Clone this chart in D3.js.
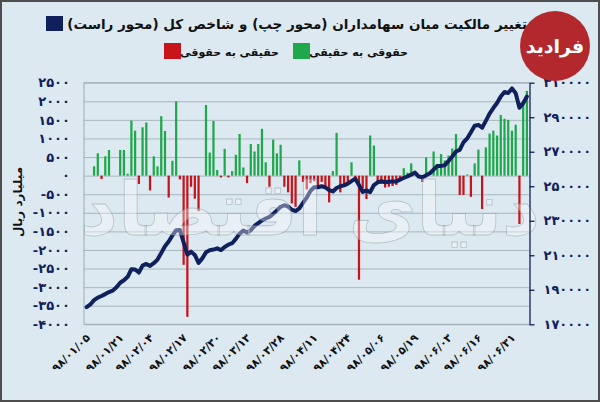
<!DOCTYPE html>
<html>
<head>
<meta charset="utf-8">
<script src="https://cdn.jsdelivr.net/npm/d3@7"></script>
<style>
  body { margin: 0; background: #dce9f1; }
  svg { display: block; }
</style>
</head>
<body>
<div id="plot"></div>
<script>
// OWNERSHIP FLOW + TEPIX CHART
var w = 600;
var h = 402;

// Data: daily net flow real<->legal (billion rials), left axis
var flowValues = [
	0, 0, 250, 600, -90, 520, 690, 0, 0, 690,
	690, 50, 1480, 1210, -225, 1300, 1430, -400, 520, 250,
	1600, 1200, -590, 400, 2000, -100, -2400, -3800, -300, -620,
	-950, 0, 1900, 620, 1470, 150, -50, 720, -50, 120,
	560, 1120, 220, -200, 850, 650, 850, 1260, 360, -300,
	970, 600, 830, -300, -450, -750, -840, 410, -170, -370,
	-200, -150, -300, -170, -320, -720, 120, 1150, -450, -300,
	-220, 360, -150, -2800, -350, -630, 1080, 810, -220, -220,
	-320, -300, -280, -250, -100, 200, 80, 330, 0, 0,
	-170, 490, 0, 650, 300, 580, 410, 540, 730, 1120,
	-520, -520, 30, -570, 330, 700, -900, 760, 1130, 1210,
	1080, 1630, 1530, 1500, 1210, 1370, -1300, 1900, 2280
];

// Data: total index, right axis
var indexValues = [
	180000, 181500, 184000, 185500, 186400, 187500, 188700, 189500, 191500, 194100,
	195500, 197500, 201900, 201800, 200000, 204000, 205000, 203800, 205400, 207500,
	211300, 215200, 218000, 221500, 224500, 224600, 217500, 210300, 212100, 210200,
	205600, 208200, 211700, 212900, 213300, 214000, 213000, 214800, 216200, 217000,
	219500, 222500, 224400, 223200, 224500, 227000, 228600, 230200, 231300, 232200,
	234000, 236000, 238100, 239000, 238200, 236400, 235600, 237200, 240400, 243400,
	247300, 249400, 249400, 250000, 249300, 247800, 247000, 249000, 250000, 250500,
	251500, 253000, 254400, 250700, 246700, 247600, 246600, 250700, 252200, 252900,
	252300, 252600, 252800, 252800, 253800, 254900, 255700, 256700, 257900, 255600,
	255200, 256300, 257500, 259600, 261700, 261800, 262200, 264600, 267200, 270100,
	271100, 275400, 277700, 281300, 285100, 285500, 283900, 287900, 292100, 295300,
	298200, 302000, 304600, 304000, 306700, 303900, 295500, 298000, 302000
];

// Date tick labels and the bar they sit under
var tickLabels = [
	'98/01/05', '98/01/21', '98/02/04', '98/02/17', '98/02/30', '98/03/13', '98/03/28',
	'98/04/11', '98/04/24', '98/05/06', '98/05/19', '98/06/03', '98/06/16', '98/06/31'
];
var tickIdx = [0, 9, 17, 26, 35, 43, 52, 61, 70, 79, 88, 97, 105, 114];

var leftTicks = d3.range(-4000, 2501, 500);
var rightTicks = d3.range(170000, 310001, 20000);

var legendItems = [
	{ label: 'حقوقی به حقیقی', color: '#1fa84b' },
	{ label: 'حقیقی به حقوقی', color: '#c8131a' }
];
var titleText = 'تغییر مالکیت میان سهامداران (محور چپ) و شاخص کل (محور راست)';

// persian digits
function fa (s) {
	return String(s).replace(/[0-9]/g, function (d) { return '۰۱۲۳۴۵۶۷۸۹'[+d]; });
}

var font = "'DejaVu Sans', sans-serif";
var navy = '#10205c';
var gridCol = '#a9b6be';

var pLeft = 84, pRight = 529.5, pTop = 82.7, pBottom = 324.3;

var svg = d3.select('#plot').append('svg')
	.attr('width', w)
	.attr('height', h);

// background + frame
svg.append('rect')
	.attr('x', 1).attr('y', 1)
	.attr('width', w - 2).attr('height', h - 2)
	.attr('fill', '#dce9f1')
	.attr('stroke', '#4d4d4d')
	.attr('stroke-width', 2);

// scales
var x = d3.scaleBand()
	.domain(d3.range(flowValues.length))
	.range([pLeft, pRight])
	.padding(0.4);

var yL = d3.scaleLinear().domain([-4000, 2500]).range([pBottom, pTop]);
var yR = d3.scaleLinear().domain([170000, 310000]).range([pBottom, pTop]);

// grid + left labels
var gLeft = svg.append('g')
	.attr('transform', 'translate(' + pLeft + ',0)')
	.call(d3.axisLeft(yL)
		.tickValues(leftTicks)
		.tickSize(-(pRight - pLeft))
		.tickPadding(14)
		.tickFormat(function (d) { return fa(d); }));
gLeft.select('.domain').remove();
gLeft.selectAll('line').attr('stroke', gridCol).attr('stroke-width', 1);
gLeft.selectAll('text')
	.attr('fill', navy)
	.attr('font-family', font)
	.attr('font-weight', 'bold')
	.attr('font-size', '13px')
	.attr('direction', 'ltr');

// plot border (left, top, bottom)
svg.append('path')
	.attr('d', 'M' + pRight + ',' + pTop + 'H' + pLeft + 'V' + pBottom + 'H' + pRight)
	.attr('fill', 'none')
	.attr('stroke', gridCol)
	.attr('stroke-width', 1.2);

// bars
svg.selectAll('rect.bar')
	.data(flowValues)
	.enter()
	.append('rect')
	.attr('class', 'bar')
	.attr('x', function (d, i) { return x(i); })
	.attr('width', x.bandwidth())
	.attr('y', function (d) { return yL(Math.max(0, d)); })
	.attr('height', function (d) { return Math.abs(yL(d) - yL(0)); })
	.attr('fill', function (d) { return d >= 0 ? legendItems[0].color : legendItems[1].color; });

// index line
var line = d3.line()
	.x(function (d, i) { return x(i) + x.bandwidth() / 2; })
	.y(function (d) { return yR(d); });

svg.append('path')
	.datum(indexValues)
	.attr('d', line)
	.attr('fill', 'none')
	.attr('stroke', navy)
	.attr('stroke-width', 4)
	.attr('stroke-linejoin', 'round')
	.attr('stroke-linecap', 'round');

// faint newspaper watermark over the plot
svg.append('text')
	.attr('x', 310).attr('y', 235)
	.attr('text-anchor', 'middle')
	.attr('font-family', font)
	.attr('font-weight', 'bold')
	.attr('font-size', '74px')
	.attr('fill', '#ffffff')
	.attr('fill-opacity', 0.35)
	.attr('stroke', '#7d8b94')
	.attr('stroke-opacity', 0.45)
	.attr('stroke-width', 0.8)
	.text('دنیای اقتصاد');

// right axis
var gRight = svg.append('g')
	.attr('transform', 'translate(' + pRight + ',0)')
	.call(d3.axisRight(yR)
		.tickValues(rightTicks)
		.tickSize(5)
		.tickSizeOuter(0)
		.tickPadding(9)
		.tickFormat(function (d) { return fa(d); }));
gRight.selectAll('.domain, line').attr('stroke', navy).attr('stroke-width', 1.3);
gRight.selectAll('text')
	.attr('fill', navy)
	.attr('font-family', font)
	.attr('font-weight', 'bold')
	.attr('font-size', '13px')
	.attr('direction', 'ltr');

// date axis
var gBottom = svg.append('g')
	.attr('transform', 'translate(0,' + pBottom + ')')
	.call(d3.axisBottom(x)
		.tickValues(tickIdx)
		.tickSize(0)
		.tickFormat(function (d) { return fa(tickLabels[tickIdx.indexOf(d)]); }));
gBottom.select('.domain').remove();
gBottom.selectAll('text')
	.attr('fill', '#111')
	.attr('font-family', font)
	.attr('font-weight', 'bold')
	.attr('font-size', '11px')
	.attr('direction', 'ltr')
	.attr('text-anchor', 'end')
	.attr('dx', '0')
	.attr('dy', '0')
	.attr('transform', 'translate(2,12) rotate(-45)');

// y title
svg.append('text')
	.attr('transform', 'translate(22,202) rotate(-90)')
	.attr('text-anchor', 'middle')
	.attr('font-family', font)
	.attr('font-weight', 'bold')
	.attr('font-size', '12px')
	.attr('fill', '#111')
	.text('میلیارد ریال');

// title row
svg.append('rect')
	.attr('x', 46).attr('y', 16)
	.attr('width', 17).attr('height', 15)
	.attr('fill', navy);
svg.append('text')
	.attr('x', 527).attr('y', 29)
	.attr('direction', 'rtl')
	.attr('text-anchor', 'start')
	.attr('font-family', font)
	.attr('font-weight', 'bold')
	.attr('font-size', '13.5px')
	.attr('fill', '#111')
	.text(titleText);

// legend row
var legX = [408, 279];
var leg = svg.selectAll('g.leg')
	.data(legendItems)
	.enter()
	.append('g')
	.attr('class', 'leg')
	.attr('transform', function (d, i) { return 'translate(' + legX[i] + ',0)'; });
leg.append('text')
	.attr('x', 0).attr('y', 56)
	.attr('direction', 'rtl')
	.attr('text-anchor', 'start')
	.attr('font-family', font)
	.attr('font-weight', 'bold')
	.attr('font-size', '11px')
	.attr('fill', '#111')
	.text(function (d) { return d.label; });
leg.append('rect')
	.attr('x', -115).attr('y', 43)
	.attr('width', 17).attr('height', 16)
	.attr('fill', function (d) { return d.color; });

// site badge
svg.append('circle')
	.attr('cx', 555).attr('cy', 46).attr('r', 35)
	.attr('fill', '#b3282d');
svg.append('text')
	.attr('x', 555).attr('y', 53)
	.attr('text-anchor', 'middle')
	.attr('font-family', font)
	.attr('font-weight', 'bold')
	.attr('font-size', '19px')
	.attr('fill', '#fff')
	.text('فرادید');
</script>
</body>
</html>
